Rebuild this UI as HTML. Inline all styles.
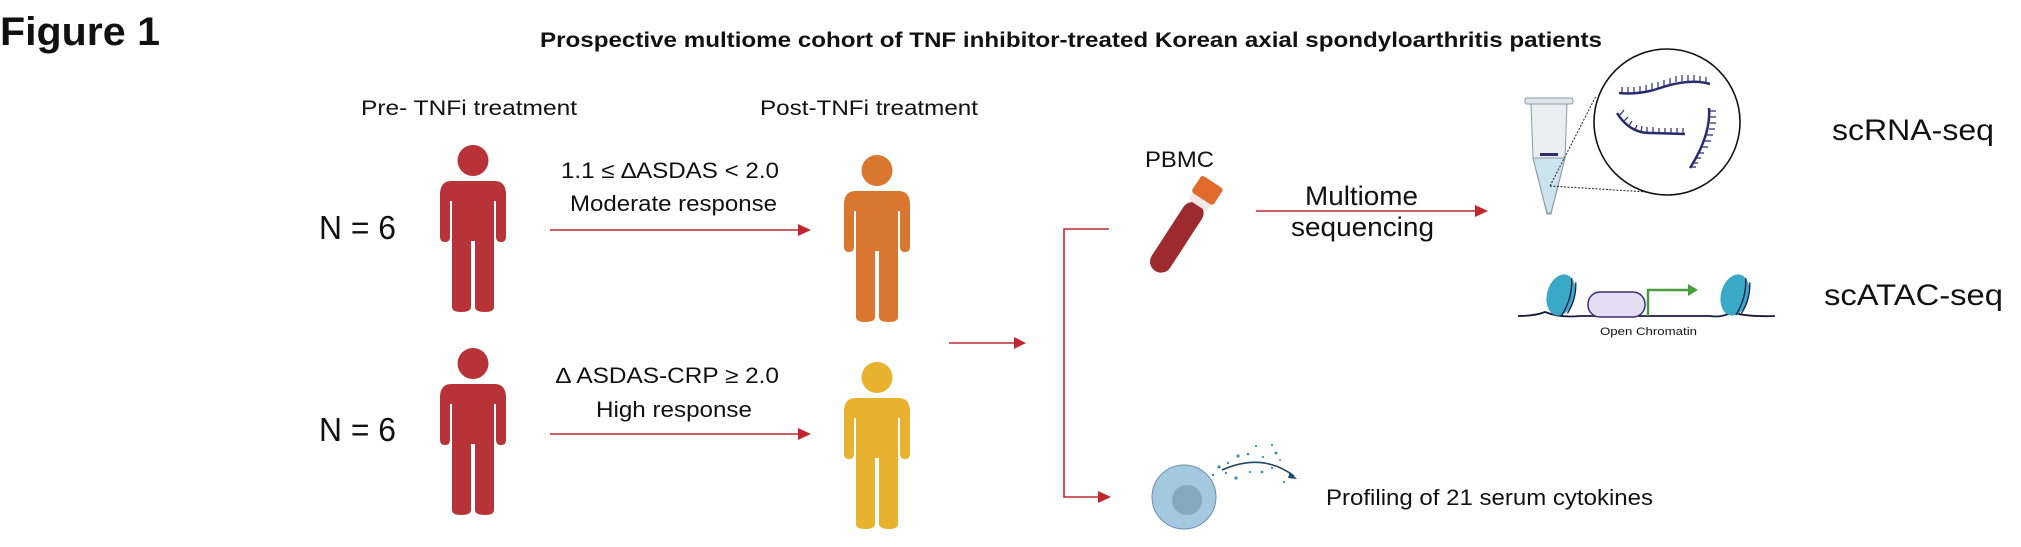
<!DOCTYPE html>
<html><head><meta charset="utf-8"><style>
html,body{margin:0;padding:0;background:#fff}
svg{display:block}
text{font-family:"Liberation Sans",Arial,sans-serif;fill:#111}
</style></head><body>
<svg width="2021" height="547" viewBox="0 0 2021 547" xmlns="http://www.w3.org/2000/svg">
<defs>
<g id="person">
  <ellipse cx="0" cy="15.5" rx="15.5" ry="15.5"/>
  <path d="M-22,36 L22,36 Q32,36 33,48 L33,92 Q33,97 28,97 Q23,97 23,92 L23,56 L21,56 L21,162 Q21,167 12,167 Q2,167 2,162 L2,96 L-2,96 L-2,162 Q-2,167 -12,167 Q-21,167 -21,162 L-21,56 L-23,56 L-23,92 Q-23,97 -28,97 Q-33,97 -33,92 L-33,48 Q-32,36 -22,36 Z"/>
</g>
</defs>

<text x="0" y="45" font-size="40" font-weight="bold" textLength="160" lengthAdjust="spacingAndGlyphs">Figure 1</text>
<text x="540" y="47" font-size="21" font-weight="bold" textLength="1062" lengthAdjust="spacingAndGlyphs">Prospective multiome cohort of TNF inhibitor-treated Korean axial spondyloarthritis patients</text>

<text x="361" y="115" font-size="21" textLength="216" lengthAdjust="spacingAndGlyphs">Pre- TNFi treatment</text>
<text x="760" y="115" font-size="21" textLength="218" lengthAdjust="spacingAndGlyphs">Post-TNFi treatment</text>

<text x="319" y="239" font-size="33" textLength="77" lengthAdjust="spacingAndGlyphs">N = 6</text>
<text x="319" y="441" font-size="33" textLength="77" lengthAdjust="spacingAndGlyphs">N = 6</text>

<g fill="#b83338"><use href="#person" transform="translate(473,145)"/><use href="#person" transform="translate(473,348)"/></g>
<g fill="#d9762f"><use href="#person" transform="translate(877,155)"/></g>
<g fill="#e8b12e"><use href="#person" transform="translate(877,362)"/></g>

<text x="561" y="178" font-size="22" textLength="218" lengthAdjust="spacingAndGlyphs">1.1 ≤ ∆ASDAS &lt; 2.0</text>
<text x="570" y="211" font-size="22" textLength="207" lengthAdjust="spacingAndGlyphs">Moderate response</text>
<text x="556" y="383" font-size="22" textLength="223" lengthAdjust="spacingAndGlyphs">∆ ASDAS-CRP ≥ 2.0</text>
<text x="596" y="417" font-size="22" textLength="156" lengthAdjust="spacingAndGlyphs">High response</text>

<g stroke="#c0282e" stroke-width="1.6" fill="none">
  <line x1="550" y1="230" x2="800" y2="230"/>
  <line x1="550" y1="434" x2="800" y2="434"/>
  <line x1="949" y1="343" x2="1016" y2="343"/>
  <polyline points="1109,229 1064,229 1064,497 1100,497"/>
  <line x1="1256" y1="211" x2="1476" y2="211"/>
</g>
<g fill="#c0282e">
  <polygon points="798,224 811,230 798,236"/>
  <polygon points="798,428 811,434 798,440"/>
  <polygon points="1014,337 1026,343 1014,349"/>
  <polygon points="1098,491 1111,497 1098,503"/>
  <polygon points="1475,205 1488,211 1475,217"/>
</g>

<text x="1145" y="167" font-size="22" textLength="69" lengthAdjust="spacingAndGlyphs">PBMC</text>
<g transform="translate(1179,234) rotate(33)">
  <rect x="-11" y="-36" width="22" height="80" rx="11" fill="#9c2a2e"/>
  <rect x="-11" y="-44" width="22" height="10" fill="#f2e6e6"/>
  <rect x="-13" y="-62" width="26" height="20" rx="3" fill="#e06a2a"/>
</g>

<text x="1305" y="205" font-size="27" textLength="113" lengthAdjust="spacingAndGlyphs">Multiome</text>
<text x="1291" y="236" font-size="27" textLength="143" lengthAdjust="spacingAndGlyphs">sequencing</text>

<g stroke="#8a9aa6" stroke-width="1">
  <rect x="1525" y="98" width="48" height="6" rx="2" fill="#dfe6ea"/>
  <path d="M1531,104 L1567,104 L1565,158 L1551,214 L1547,214 L1533,158 Z" fill="#e9eef1"/>
  <path d="M1533,158 L1565,158 L1551,213 L1547,213 Z" fill="#cde4ee"/>
</g>
<rect x="1540" y="153" width="18" height="3" fill="#2b2c6e"/>
<g stroke="#222" stroke-width="1" stroke-dasharray="2,1.5" fill="none">
  <line x1="1550" y1="186" x2="1596" y2="96"/>
  <line x1="1550" y1="186" x2="1664" y2="193"/>
</g>
<circle cx="1667" cy="122" r="73" fill="#fff" stroke="#111" stroke-width="1.6"/>
<g stroke="#2b2c6e" stroke-width="2.5" fill="none">
  <path d="M1619,93 Q1640,95 1660,88 Q1690,78 1710,84"/>
  <path d="M1617,113 Q1630,134 1652,133 L1685,134"/>
  <path d="M1709,108 Q1711,135 1690,168"/>
</g>
<g stroke="#2b2c6e" stroke-width="1.2">
  <path d="M1622,93v-6M1628,93v-6M1634,93v-6M1640,92v-6M1646,91v-6M1652,89v-6M1658,88v-6M1664,86v-6M1670,84v-6M1676,82v-6M1682,81v-6M1688,81v-6M1694,81v-6M1700,82v-6M1706,83v-6"/>
  <path d="M1620,115l4,-5M1624,121l4,-4M1629,126l3,-5M1635,130l2,-5M1641,132l1,-6M1647,133v-6M1653,133v-6M1659,134v-6M1665,134v-6M1671,134v-6M1677,134v-6M1683,134v-6"/>
  <path d="M1710,111h6M1710,117h6M1710,123h6M1709,129h6M1707,135h6M1705,141h6M1702,147h6M1699,153h5M1696,158h5M1693,163h5M1691,167h5"/>
</g>
<text x="1832" y="140" font-size="30" textLength="162" lengthAdjust="spacingAndGlyphs">scRNA-seq</text>

<path d="M1518,316 Q1535,316 1545,312 Q1560,318 1580,316 L1710,316 Q1722,318 1732,312 Q1745,317 1775,316" stroke="#1a1a40" stroke-width="1.8" fill="none"/>
<g transform="translate(1561,295) rotate(15)">
  <ellipse cx="0" cy="0" rx="14" ry="21" fill="#3aa8c7"/>
  <path d="M6,-19 Q12,0 6,19 M11,-16 Q16,0 11,16" stroke="#1a1a40" stroke-width="1.3" fill="none"/>
</g>
<g transform="translate(1735,295) rotate(15)">
  <ellipse cx="0" cy="0" rx="14" ry="21" fill="#3aa8c7"/>
  <path d="M6,-19 Q12,0 6,19 M11,-16 Q16,0 11,16" stroke="#1a1a40" stroke-width="1.3" fill="none"/>
</g>
<rect x="1588" y="292" width="57" height="25" rx="12" fill="#e3def4" stroke="#3a2e7a" stroke-width="1.5"/>
<polyline points="1648,316 1648,290 1690,290" stroke="#4a9d3c" stroke-width="2.5" fill="none"/>
<polygon points="1688,284 1698,290 1688,296" fill="#4a9d3c"/>
<text x="1600" y="335" font-size="11" textLength="97" lengthAdjust="spacingAndGlyphs">Open Chromatin</text>
<text x="1824" y="305" font-size="30" textLength="179" lengthAdjust="spacingAndGlyphs">scATAC-seq</text>

<circle cx="1184" cy="497" r="32" fill="#a4c8e0" stroke="#6a90ae" stroke-width="1"/>
<circle cx="1187" cy="500" r="15" fill="#85a7bf"/>
<path d="M1222,470 Q1262,452 1294,476" stroke="#1f4866" stroke-width="1.6" fill="none"/>
<polygon points="1290,472 1297,479 1288,478" fill="#1f4866"/>
<g fill="#3b8fb6">
  <circle cx="1219" cy="467" r="1.6"/><circle cx="1228" cy="463" r="1.2"/><circle cx="1238" cy="456" r="1.6"/><circle cx="1248" cy="454" r="1.3"/><circle cx="1256" cy="446" r="1.1"/><circle cx="1272" cy="445" r="1.1"/><circle cx="1276" cy="453" r="1.5"/><circle cx="1263" cy="457" r="1.1"/><circle cx="1236" cy="478" r="1.6"/><circle cx="1226" cy="473" r="1.2"/><circle cx="1250" cy="472" r="1.1"/><circle cx="1262" cy="472" r="1.4"/><circle cx="1272" cy="468" r="1.1"/><circle cx="1284" cy="482" r="1.1"/><circle cx="1280" cy="460" r="1"/><circle cx="1213" cy="475" r="1.2"/>
</g>
<text x="1326" y="505" font-size="22" textLength="327" lengthAdjust="spacingAndGlyphs">Profiling of 21 serum cytokines</text>
</svg>
</body></html>
